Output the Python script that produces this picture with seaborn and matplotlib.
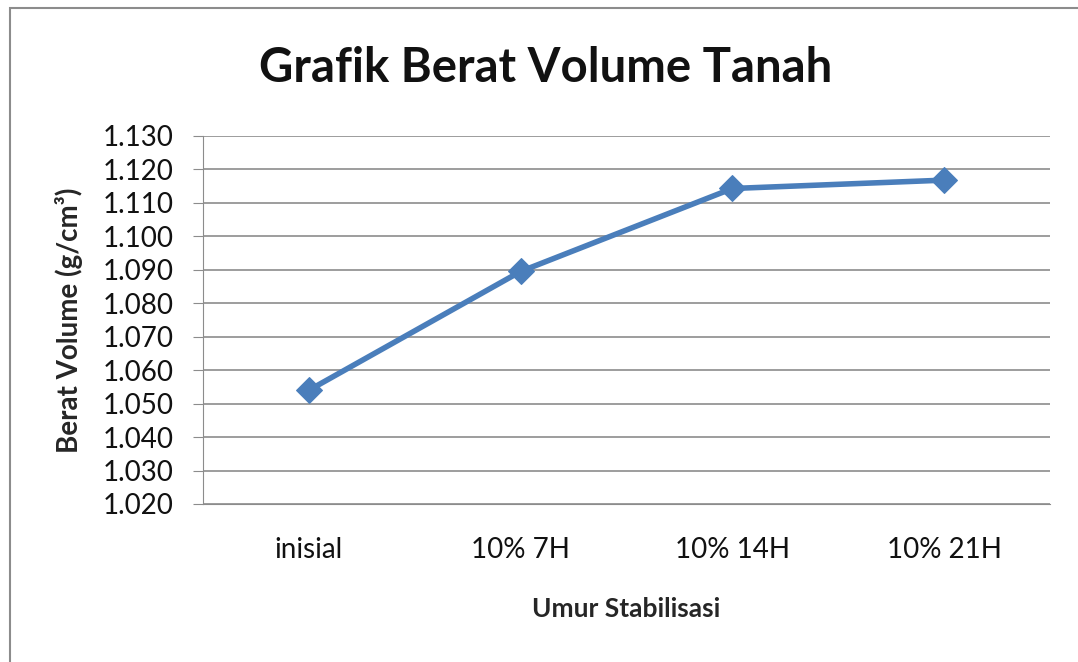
import matplotlib
matplotlib.use("Agg")
import matplotlib.pyplot as plt
import seaborn as sns
import pandas as pd
from matplotlib.patches import Rectangle

# data
umur = ["inisial", "10% 7H", "10% 14H", "10% 21H"]
berat_volume = [1.054, 1.0895, 1.1143, 1.1168]
yticks = [1.020, 1.030, 1.040, 1.050, 1.060, 1.070, 1.080, 1.090, 1.100, 1.110, 1.120, 1.130]

sns.set_style("white")
plt.rcParams["font.family"] = ["Lato", "DejaVu Sans"]

df = pd.DataFrame({"Umur": umur, "Berat": berat_volume})

fig = plt.figure(figsize=(10.78, 6.62), dpi=100)
ax = fig.add_axes([0.1883, 0.2387, 0.7857, 0.5559])

# outer chart border (Excel style)
fig.patches.append(Rectangle((10 / 1078, -0.05), 1.2, (662 - 8) / 662 + 0.05,
                             transform=fig.transFigure, fill=False,
                             edgecolor="#8c8c8c", linewidth=1.5))

sns.lineplot(data=df, x="Umur", y="Berat", ax=ax, color="#4a7ebb",
             linewidth=4, marker="D", markersize=13, markeredgecolor="#4a7ebb",
             sort=False)

ax.set_xlim(-0.5, 3.5)
ax.set_ylim(1.020, 1.130)
ax.set_yticks(yticks)
ax.set_yticklabels([f"{v:.3f}" for v in yticks], fontsize=20, color="#111111")
ax.set_xticks(range(len(umur)))
ax.set_xticklabels(umur, fontsize=20, color="#111111")
ax.grid(axis="y", color="#8c8c8c", linewidth=1.2)
ax.set_axisbelow(True)

for s in ["top", "right"]:
    ax.spines[s].set_visible(False)
ax.spines["left"].set_color("#8c8c8c")
ax.spines["bottom"].set_color("#8c8c8c")
ax.tick_params(axis="y", length=7, color="#8c8c8c", left=True, pad=14)
ax.tick_params(axis="x", length=0, pad=24)

ax.set_xlabel("Umur Stabilisasi", fontsize=19, fontweight="bold", labelpad=24)
ax.set_ylabel("Berat Volume (g/cm³)", fontsize=20, fontweight="bold", labelpad=14)
fig.suptitle("Grafik Berat Volume Tanah", fontsize=34, fontweight="bold",
             x=546 / 1078, y=1 - 68 / 662, va="center", color="#111111")

fig.savefig("out.png", dpi=100)
